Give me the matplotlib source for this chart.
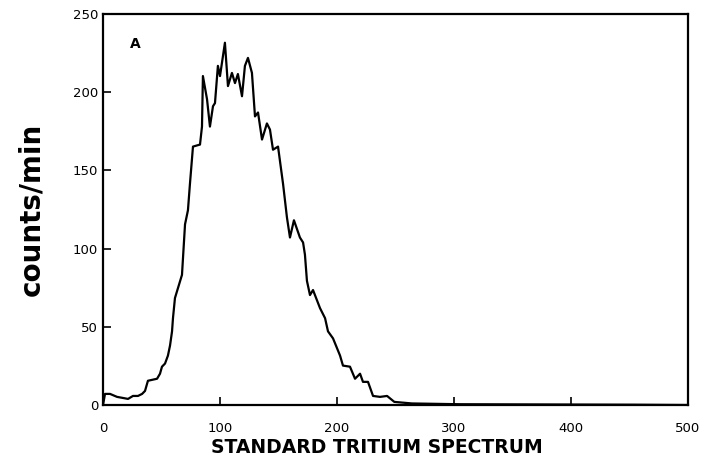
import numpy as np
import matplotlib.pyplot as plt

# channel vs counts/min
channel = [0, 1.7, 6.0, 12.0, 17.1, 21.4, 25.6, 29.9, 33.4, 35.9, 38.4, 46.2, 48.7,
           50.4, 53.0, 55.5, 57.3, 59.0, 59.8, 61.5, 67.5, 70.1, 72.6, 74.3, 76.9,
           82.9, 84.6, 85.4, 88.9, 91.4, 94.0, 95.7, 98.2, 100.0, 104.2, 106.8, 110.2,
           112.8, 115.3, 118.8, 121.3, 123.9, 127.3, 129.9, 132.5, 135.9, 140.1,
           142.7, 145.3, 149.6, 153.9, 157.2, 159.8, 163.2, 168.3, 171.0, 172.6,
           174.3, 176.9, 179.5, 185.5, 189.8, 192.3, 196.6, 202.6, 205.1, 211.1,
           215.4, 219.7, 222.2, 226.5, 230.8, 236.8, 242.8, 249, 264, 305, 355,
           405, 455, 500]
counts = [0, 7.1, 7.1, 5.2, 4.5, 3.9, 5.8, 5.8, 7.1, 9.0, 15.5, 16.8, 20.0,
          24.5, 26.5, 31.6, 38.1, 47.1, 55.5, 68.4, 83.2, 115.5, 124.5, 141.3, 165.2,
          166.5, 178.0, 210.3, 195.5, 178.0, 191.0, 193.0, 216.8, 210.3, 231.6, 203.9,
          212.3, 205.8, 211.6, 197.4, 216.8, 221.9, 212.3, 184.5, 187.0, 169.7,
          180.0, 176.1, 163.2, 165.2, 141.3, 120.0, 107.1, 118.1, 107.1, 103.9, 96.1,
          79.4, 70.3, 73.5, 61.9, 55.5, 47.1, 42.6, 31.6, 25.2, 24.5,
          16.8, 20.0, 14.8, 14.8, 5.8, 5.2, 5.8, 2.0, 1.0, 0.5, 0.4,
          0.3, 0.2, 0.0]

xticks = [0, 100, 200, 300, 400, 500]
yticks = [0, 50, 100, 150, 200, 250]

fig = plt.figure(figsize=(7.07, 4.65), dpi=100)
ax = fig.add_axes([0.1457, 0.129, 0.8274, 0.841])

ax.plot(channel, counts, color='black', lw=1.6)

ax.set_xlim(0, 500)
ax.set_ylim(0, 250)
ax.set_xticks(xticks)
ax.set_yticks(yticks)
ax.tick_params(direction='in', length=6, width=1.2, labelsize=9.5)
ax.tick_params(axis='x', pad=12)
for s in ax.spines.values():
    s.set_linewidth(1.6)

ax.text(23, 228, 'A', fontsize=10, fontweight='bold')
ax.set_ylabel('counts/min', fontsize=20, fontweight='bold', labelpad=20)
ax.set_xlabel('STANDARD TRITIUM SPECTRUM', fontsize=13.5, fontweight='bold')
ax.xaxis.set_label_coords(0.468, -0.085)

fig.savefig('out.png', dpi=100)
